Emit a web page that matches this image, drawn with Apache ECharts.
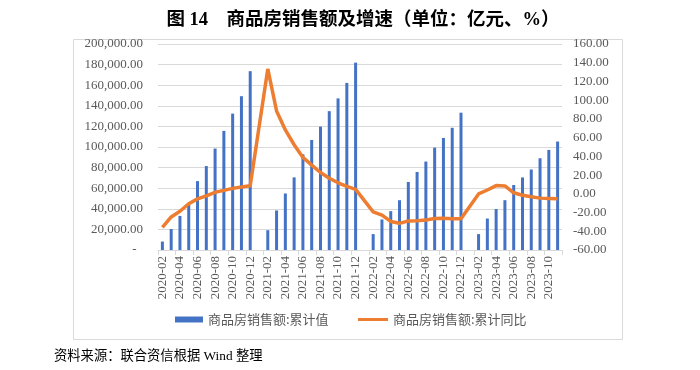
<!DOCTYPE html>
<html>
<head>
<meta charset="utf-8">
<script src="https://cdn.jsdelivr.net/npm/echarts@6/dist/echarts.min.js"></script>
<style>
html,body{margin:0;padding:0;background:#fff;}
#c{width:700px;height:370px;}
</style>
</head>
<body>
<div id="c"></div>
<script>
var years = ['2020', '2021', '2022', '2023'];
var months2020 = ['02','03','04','05','06','07','08','09','10','11','12'];
var monthsFull = ['01','02','03','04','05','06','07','08','09','10','11','12'];
var months2023 = ['01','02','03','04','05','06','07','08','09','10','11'];

var categories = []
  .concat(months2020.map(function (m) { return '2020-' + m; }))
  .concat(monthsFull.map(function (m) { return '2021-' + m; }))
  .concat(monthsFull.map(function (m) { return '2022-' + m; }))
  .concat(months2023.map(function (m) { return '2023-' + m; }));

// 商品房销售额:累计值 (亿元)
var sales2020 = [8203, 20365, 33085, 45420, 66895, 81500, 98486, 115647, 132400, 149300, 173613];
var sales2021 = [null, 19216, 38378, 54892, 70534, 92931, 106840, 119800, 134795, 147185, 162220, 181930];
var sales2022 = [null, 15459, 29655, 37709, 48337, 66072, 75763, 85870, 99380, 108832, 118648, 133308];
var sales2023 = [null, 15449, 30545, 39750, 48363, 63092, 70450, 78158, 89070, 97161, 105318];

// 商品房销售额:累计同比 (%)
var yoy2020 = [-35.9, -24.7, -18.6, -10.6, -5.4, -2.1, 1.6, 3.7, 5.8, 7.2, 8.7];
var yoy2021 = [null, 133.4, 88.5, 68.2, 52.4, 38.9, 30.7, 22.8, 16.6, 11.8, 8.0, 4.8];
var yoy2022 = [null, -19.3, -22.7, -29.5, -31.5, -28.9, -28.8, -27.9, -26.3, -26.1, -26.6, -26.7];
var yoy2023 = [null, -0.1, 4.1, 8.8, 8.4, 1.1, -1.5, -3.2, -4.6, -4.9, -5.2];

var salesValues = [].concat(sales2020, sales2021, sales2022, sales2023);
var yoyValues = [].concat(yoy2020, yoy2021, yoy2022, yoy2023);

var barName = '商品房销售额:累计值';
var lineName = '商品房销售额:累计同比';
var titleText = '图 14\u3000商品房销售额及增速（单位：亿元、%）';
var sourceText = '资料来源：联合资信根据 Wind 整理';

var serif = '"Liberation Serif", "Noto Sans CJK SC", serif';
var sans = '"Noto Sans CJK SC", sans-serif';

var chart = echarts.init(document.getElementById('c'), null, {renderer: 'canvas'});
chart.setOption({
  animation: false,
  backgroundColor: '#fff',
  grid: {left: 158, right: 138, top: 44, bottom: 120, containLabel: false},
  graphic: [
    {type: 'rect', z: -10, shape: {x: 73.5, y: 39.5, width: 549, height: 300},
     style: {fill: 'none', stroke: '#d9d9d9', lineWidth: 1}},
    {type: 'text', x: 363, y: 20,
     style: {text: titleText, fill: '#000', font: 'bold 18.5px ' + serif,
             textAlign: 'center', textVerticalAlign: 'middle'}},
    {type: 'text', x: 54, y: 357,
     style: {text: sourceText, fill: '#000', font: '13.3px ' + serif,
             textAlign: 'left', textVerticalAlign: 'middle'}}
  ],
  legend: [
    {data: [barName], left: 175, top: 313, padding: 0, itemWidth: 28, itemHeight: 6, icon: 'rect',
     selectedMode: false, textStyle: {fontFamily: sans, fontSize: 13, color: '#595959'}},
    {data: [lineName], left: 358, top: 313, padding: 0, itemWidth: 30, itemHeight: 3, icon: 'rect',
     selectedMode: false, textStyle: {fontFamily: sans, fontSize: 13, color: '#595959'}}
  ],
  xAxis: {
    type: 'category',
    data: categories,
    boundaryGap: true,
    axisLine: {lineStyle: {color: '#d9d9d9'}},
    axisTick: {show: true, interval: 1, length: 5, lineStyle: {color: '#d9d9d9'}},
    axisLabel: {interval: 1, rotate: 90, margin: 6, fontFamily: serif, fontSize: 13, color: '#595959'}
  },
  yAxis: [
    {type: 'value', min: 0, max: 200000, interval: 20000,
     axisLine: {show: false}, axisTick: {show: false},
     splitLine: {lineStyle: {color: '#d9d9d9', width: 1}},
     axisLabel: {margin: 15, fontFamily: serif, fontSize: 13, color: '#595959',
       formatter: function (v) {
         if (v === 0) return '-  ';
         return v.toLocaleString('en-US', {minimumFractionDigits: 2, maximumFractionDigits: 2});
       }}},
    {type: 'value', min: -60, max: 160, interval: 20,
     axisLine: {show: false}, axisTick: {show: false}, splitLine: {show: false},
     axisLabel: {margin: 11, fontFamily: serif, fontSize: 13, color: '#595959',
       formatter: function (v) { return v.toFixed(2); }}}
  ],
  series: [
    {name: barName, type: 'bar', yAxisIndex: 0, data: salesValues, barWidth: 3,
     itemStyle: {color: '#4472C4'}},
    {name: lineName, type: 'line', yAxisIndex: 1, data: yoyValues, connectNulls: true,
     showSymbol: false, symbol: 'none', lineStyle: {color: '#ED7D31', width: 3.5},
     itemStyle: {color: '#ED7D31'}}
  ]
});
</script>
</body>
</html>
